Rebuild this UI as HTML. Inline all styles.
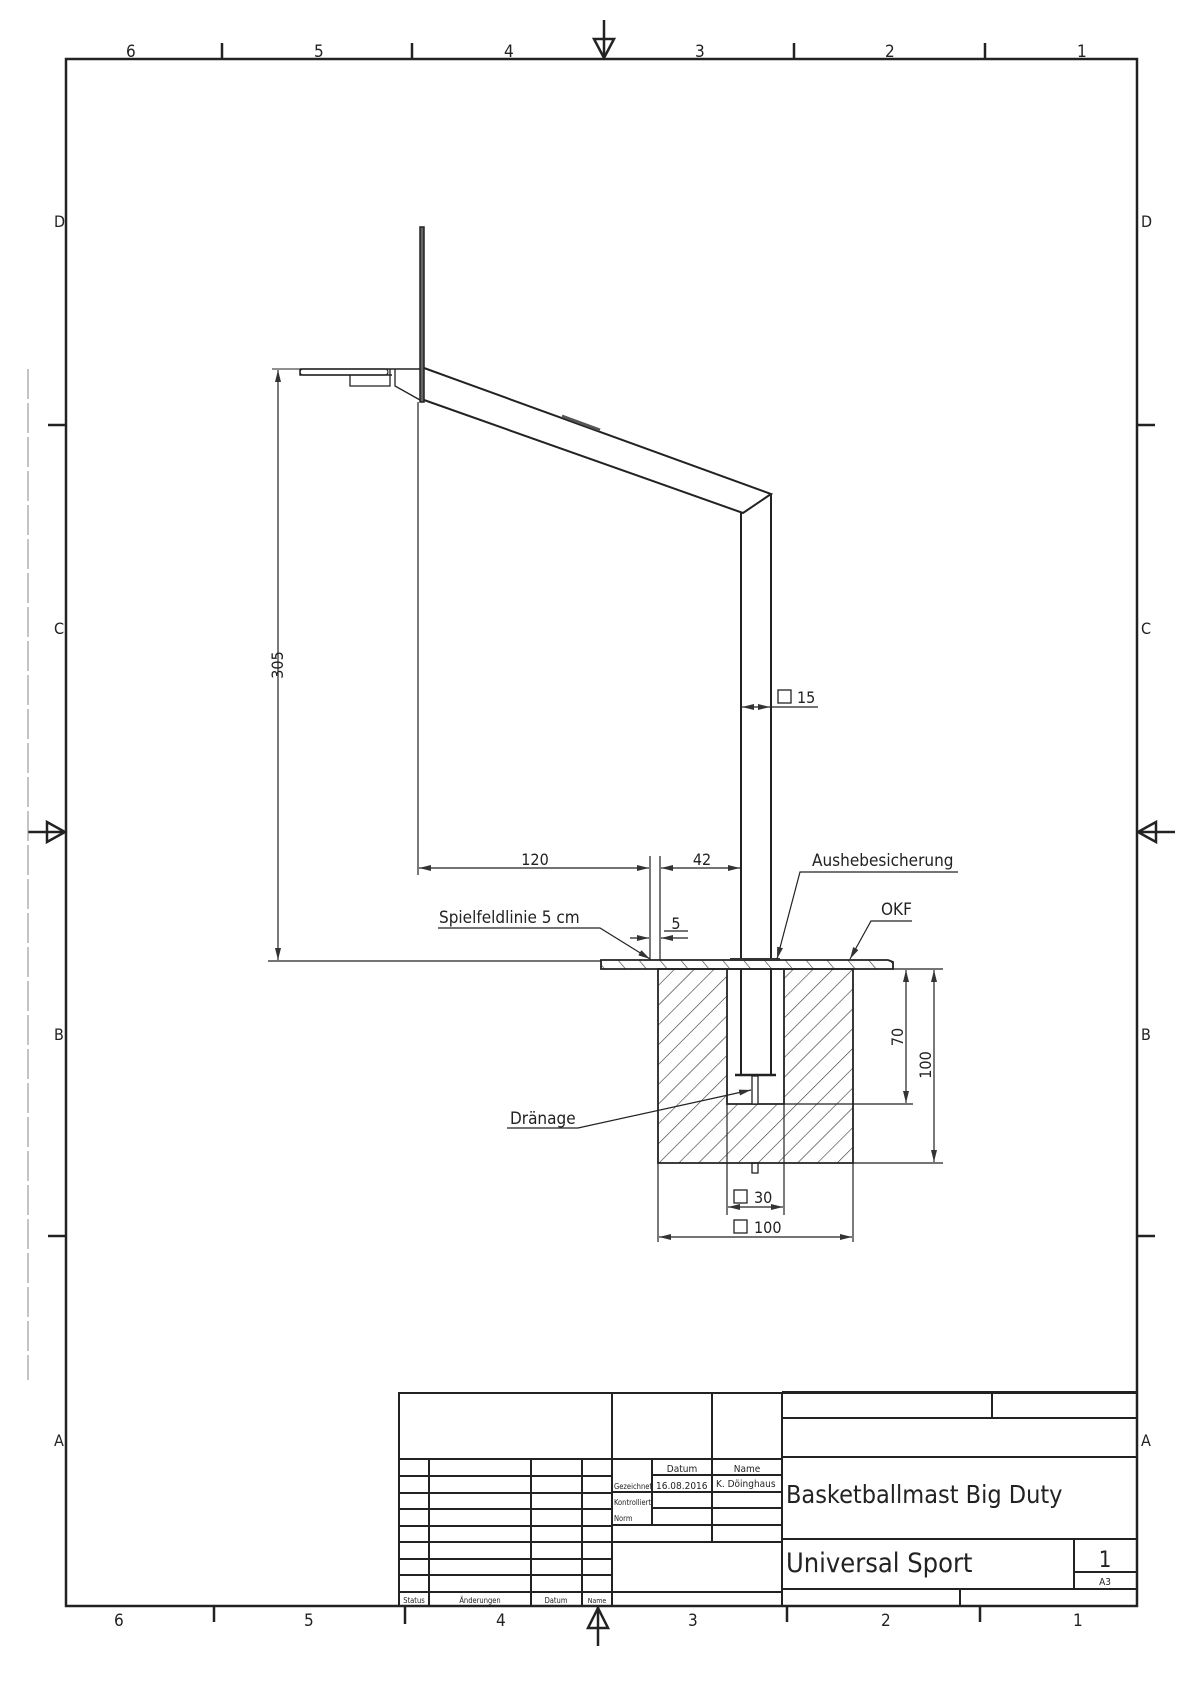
<!DOCTYPE html>
<html><head><meta charset="utf-8"><style>
html,body{margin:0;padding:0;background:#fff}
svg{display:block}
text{font-family:"DejaVu Sans Condensed","DejaVu Sans","Liberation Sans",sans-serif;fill:#222}
</style></head><body>
<svg width="1190" height="1683" viewBox="0 0 1190 1683" xmlns="http://www.w3.org/2000/svg">
<defs>
<pattern id="h1" patternUnits="userSpaceOnUse" width="14" height="14" patternTransform="rotate(45)">
<line x1="0" y1="0" x2="0" y2="14" stroke="#333" stroke-width="1.2"/></pattern>
<pattern id="h2" patternUnits="userSpaceOnUse" width="16" height="16" patternTransform="rotate(-40)">
<line x1="0" y1="0" x2="0" y2="16" stroke="#333" stroke-width="1.2"/></pattern>
<marker id="a" markerWidth="12" markerHeight="6" refX="12" refY="3" orient="auto-start-reverse" markerUnits="userSpaceOnUse"><path d="M0,0 L12,3 L0,6 Z" fill="#333"/></marker>
</defs>
<g stroke="#222" fill="none">
<!-- border -->
<rect x="66" y="59" width="1071" height="1547" stroke-width="2.5"/>
<g stroke-width="2.5">
<line x1="222" y1="43" x2="222" y2="59"/><line x1="412" y1="43" x2="412" y2="59"/>
<line x1="794" y1="43" x2="794" y2="59"/><line x1="985" y1="43" x2="985" y2="59"/>
<line x1="214" y1="1606" x2="214" y2="1622"/><line x1="405" y1="1606" x2="405" y2="1624"/>
<line x1="787" y1="1606" x2="787" y2="1622"/><line x1="980" y1="1606" x2="980" y2="1622"/>
<line x1="48" y1="425" x2="66" y2="425"/><line x1="48" y1="1236" x2="66" y2="1236"/>
<line x1="1137" y1="425" x2="1155" y2="425"/><line x1="1137" y1="1236" x2="1155" y2="1236"/>
<!-- centering arrows -->
<line x1="604" y1="20" x2="604" y2="59"/><path d="M594,39 L614,39 L604,58 Z"/>
<line x1="598" y1="1607" x2="598" y2="1646"/><path d="M588,1628 L608,1628 L598,1608 Z"/>
<line x1="28" y1="832" x2="66" y2="832"/><path d="M47,822 L47,842 L65,832 Z"/>
<line x1="1137" y1="832" x2="1175" y2="832"/><path d="M1156,822 L1156,842 L1138,832 Z"/>
</g>
<line x1="28" y1="369" x2="28" y2="1380" stroke="#888" stroke-width="1" stroke-dasharray="30,4"/>

<!-- backboard and hoop -->
<rect x="420" y="227" width="4" height="175" stroke-width="1.5" fill="#666"/>
<path d="M300,369 L420,369 M300,369 L300,375 L392,375 M300,369 Z" stroke-width="1.5"/>
<rect x="300" y="369" width="88" height="6" rx="3" stroke-width="1.2"/>
<path d="M350,375 L350,386 L390,386 L390,369" stroke-width="1.3"/>
<path d="M395,369 L395,386 L420,400" stroke-width="1.3"/>
<!-- arm -->
<path d="M424,368 L771,494 L743,513 L424,400" stroke-width="2"/>
<path d="M562,416 L600,430" stroke-width="3" stroke="#555"/>
<!-- pole -->
<line x1="741" y1="513" x2="741" y2="960" stroke-width="2"/>
<line x1="771" y1="494" x2="771" y2="960" stroke-width="2"/>

<!-- ground line & 305 dim -->
<line x1="268" y1="961" x2="601" y2="961" stroke-width="1.2"/>
<line x1="272" y1="369" x2="300" y2="369" stroke-width="1"/>
<line x1="278" y1="370" x2="278" y2="960" stroke-width="1.2" marker-start="url(#a)" marker-end="url(#a)"/>
<!-- backboard vertical ext -->
<line x1="418" y1="402" x2="418" y2="875" stroke-width="1.2"/>
<!-- 120 & 42 -->
<line x1="419" y1="868" x2="649" y2="868" stroke-width="1.2" marker-start="url(#a)" marker-end="url(#a)"/>
<line x1="650" y1="856" x2="650" y2="960" stroke-width="1.2"/>
<line x1="660" y1="856" x2="660" y2="960" stroke-width="1.2"/>
<line x1="661" y1="868" x2="740" y2="868" stroke-width="1.2" marker-start="url(#a)" marker-end="url(#a)"/>
<!-- 5 -->
<line x1="630" y1="938" x2="649" y2="938" stroke-width="1.2" marker-end="url(#a)"/>
<line x1="688" y1="938" x2="661" y2="938" stroke-width="1.2" marker-end="url(#a)"/>
<!-- 15 -->
<line x1="742" y1="707" x2="770" y2="707" stroke-width="1.2" marker-start="url(#a)" marker-end="url(#a)"/>
<line x1="771" y1="707" x2="818" y2="707" stroke-width="1.2"/>
<rect x="778" y="690" width="13" height="13" stroke-width="1.3"/>

<!-- plate -->
<path d="M601,960 L888,960 L893,962 L893,969 L601,969 Z" fill="url(#h2)" stroke-width="1.8"/>
<rect x="730" y="958" width="50" height="3" fill="#333" stroke="none"/>
<!-- foundation -->
<path d="M658,969 L853,969 L853,1163 L658,1163 Z M727,969 L727,1104 L784,1104 L784,969 Z" fill="url(#h1)" fill-rule="evenodd" stroke-width="1.8"/>
<line x1="727" y1="1104" x2="727" y2="1215" stroke-width="1.2"/>
<line x1="784" y1="1104" x2="784" y2="1215" stroke-width="1.2"/>
<line x1="784" y1="1104" x2="913" y2="1104" stroke-width="1.2"/>
<line x1="741" y1="969" x2="741" y2="1075" stroke-width="2"/>
<line x1="771" y1="969" x2="771" y2="1075" stroke-width="2"/>
<line x1="735" y1="1075" x2="776" y2="1075" stroke-width="2.5"/>
<rect x="752" y="1076" width="6" height="28" stroke-width="1.3" fill="#fff"/>
<rect x="752" y="1163" width="6" height="10" stroke-width="1.3"/>
<line x1="658" y1="1163" x2="658" y2="1242" stroke-width="1.2"/>
<line x1="853" y1="1163" x2="853" y2="1242" stroke-width="1.2"/>
<line x1="853" y1="1163" x2="943" y2="1163" stroke-width="1.2"/>
<line x1="893" y1="969" x2="943" y2="969" stroke-width="1.2"/>
<line x1="906" y1="970" x2="906" y2="1103" stroke-width="1.2" marker-start="url(#a)" marker-end="url(#a)"/>
<line x1="934" y1="970" x2="934" y2="1162" stroke-width="1.2" marker-start="url(#a)" marker-end="url(#a)"/>
<line x1="728" y1="1207" x2="783" y2="1207" stroke-width="1.2" marker-start="url(#a)" marker-end="url(#a)"/>
<line x1="659" y1="1237" x2="852" y2="1237" stroke-width="1.2" marker-start="url(#a)" marker-end="url(#a)"/>
<rect x="734" y="1190" width="13" height="13" stroke-width="1.3"/>
<rect x="734" y="1220" width="13" height="13" stroke-width="1.3"/>

<!-- leaders -->
<path d="M438,928 L600,928 L650,959" stroke-width="1.2" marker-end="url(#a)"/>
<path d="M958,872 L800,872 L777,959" stroke-width="1.2" marker-end="url(#a)"/>
<path d="M912,921 L871,921 L850,959" stroke-width="1.2" marker-end="url(#a)"/>
<path d="M507,1128 L578,1128 L751,1090" stroke-width="1.2" marker-end="url(#a)"/>
<line x1="664" y1="931" x2="688" y2="931" stroke-width="1.2"/>

<!-- title block -->
<g stroke-width="2">
<rect x="399" y="1393" width="738" height="213"/>
<line x1="612" y1="1393" x2="612" y2="1606"/>
<line x1="712" y1="1393" x2="712" y2="1542"/>
<line x1="782" y1="1393" x2="782" y2="1606"/>
<line x1="399" y1="1459" x2="782" y2="1459"/>
<line x1="429" y1="1459" x2="429" y2="1606"/>
<line x1="531" y1="1459" x2="531" y2="1606"/>
<line x1="582" y1="1459" x2="582" y2="1606"/>
<line x1="399" y1="1476" x2="612" y2="1476"/><line x1="399" y1="1493" x2="612" y2="1493"/>
<line x1="399" y1="1509" x2="612" y2="1509"/><line x1="399" y1="1526" x2="612" y2="1526"/>
<line x1="399" y1="1542" x2="612" y2="1542"/><line x1="399" y1="1559" x2="612" y2="1559"/>
<line x1="399" y1="1575" x2="612" y2="1575"/><line x1="399" y1="1592" x2="782" y2="1592"/>
<line x1="652" y1="1459" x2="652" y2="1525"/>
<line x1="652" y1="1475" x2="782" y2="1475"/>
<line x1="612" y1="1492" x2="782" y2="1492"/>
<line x1="652" y1="1508" x2="782" y2="1508"/>
<line x1="612" y1="1525" x2="782" y2="1525"/>
<line x1="612" y1="1542" x2="712" y2="1542"/>
<line x1="712" y1="1542" x2="782" y2="1542"/>
<line x1="782" y1="1392" x2="1137" y2="1392"/>
<line x1="992" y1="1392" x2="992" y2="1418"/>
<line x1="782" y1="1418" x2="1137" y2="1418"/>
<line x1="782" y1="1457" x2="1137" y2="1457"/>
<line x1="782" y1="1539" x2="1137" y2="1539"/>
<line x1="782" y1="1589" x2="1137" y2="1589"/>
<line x1="1074" y1="1539" x2="1074" y2="1589"/>
<line x1="1074" y1="1572" x2="1137" y2="1572"/>
<line x1="960" y1="1589" x2="960" y2="1606"/>
</g>
</g>

<g font-size="16">
<text x="126" y="57" font-size="17">6</text><text x="314" y="57" font-size="17">5</text>
<text x="504" y="57" font-size="17">4</text><text x="695" y="57" font-size="17">3</text>
<text x="885" y="57" font-size="17">2</text><text x="1077" y="57" font-size="17">1</text>
<text x="114" y="1626" font-size="17">6</text><text x="304" y="1626" font-size="17">5</text>
<text x="496" y="1626" font-size="17">4</text><text x="688" y="1626" font-size="17">3</text>
<text x="881" y="1626" font-size="17">2</text><text x="1073" y="1626" font-size="17">1</text>
<text x="54" y="227">D</text><text x="54" y="634">C</text><text x="54" y="1040">B</text><text x="54" y="1446">A</text>
<text x="1141" y="227">D</text><text x="1141" y="634">C</text><text x="1141" y="1040">B</text><text x="1141" y="1446">A</text>
</g>
<g font-size="16">
<text transform="translate(283,665) rotate(-90)" text-anchor="middle">305</text>
<text x="535" y="865" text-anchor="middle">120</text>
<text x="702" y="865" text-anchor="middle">42</text>
<text x="676" y="929" text-anchor="middle">5</text>
<text x="797" y="703">15</text>
<text x="439" y="923" font-size="17">Spielfeldlinie 5 cm</text>
<text x="812" y="866" font-size="17">Aushebesicherung</text>
<text x="881" y="915" font-size="17">OKF</text>
<text x="510" y="1124" font-size="17">Dränage</text>
<text transform="translate(903,1037) rotate(-90)" text-anchor="middle">70</text>
<text transform="translate(931,1065) rotate(-90)" text-anchor="middle">100</text>
<text x="754" y="1203">30</text>
<text x="754" y="1233">100</text>
</g>
<g font-size="9">
<text x="682" y="1472" text-anchor="middle" font-size="10">Datum</text>
<text x="747" y="1472" text-anchor="middle" font-size="10">Name</text>
<text x="614" y="1489" font-size="7.5">Gezeichnet</text>
<text x="656" y="1489" font-size="10">16.08.2016</text>
<text x="716" y="1487" font-size="10">K. Döinghaus</text>
<text x="614" y="1505" font-size="7.5">Kontrolliert</text>
<text x="614" y="1521" font-size="7.5">Norm</text>
<text x="414" y="1603" text-anchor="middle" font-size="7.5">Status</text>
<text x="480" y="1603" text-anchor="middle" font-size="7.5">Änderungen</text>
<text x="556" y="1603" text-anchor="middle" font-size="7.5">Datum</text>
<text x="597" y="1603" text-anchor="middle" font-size="7">Name</text>
</g>
<text x="786" y="1503" font-size="25">Basketballmast Big Duty</text>
<text x="786" y="1572" font-size="27">Universal Sport</text>
<text x="1105" y="1567" font-size="22" text-anchor="middle">1</text>
<text x="1105" y="1585" font-size="10" text-anchor="middle">A3</text>
</svg>
</body></html>
